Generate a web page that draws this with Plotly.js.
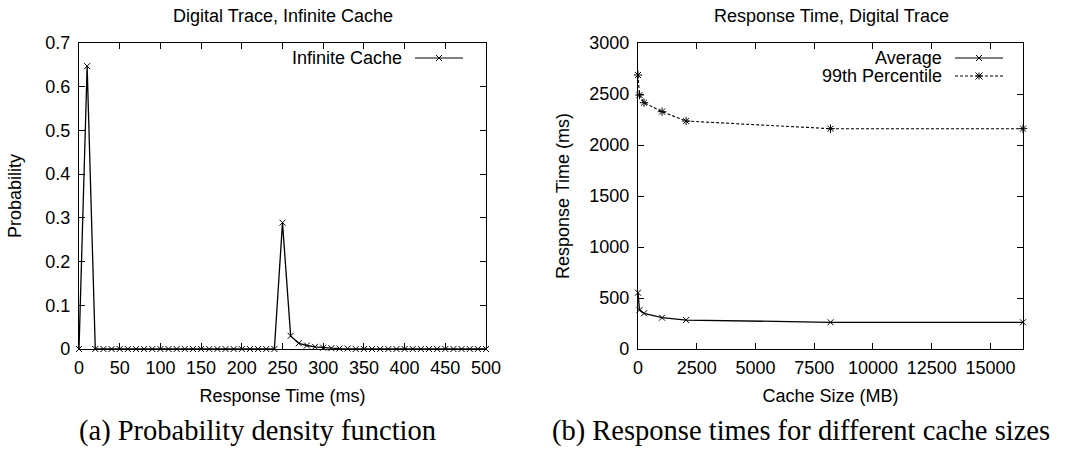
<!DOCTYPE html>
<html>
<head>
<meta charset="utf-8">
<script src="https://cdn.plot.ly/plotly-3.0.1.min.js"></script>
<style>
  html, body { margin: 0; padding: 0; background: #fff; }
  #chart { width: 1066px; height: 449px; }
</style>
</head>
<body>
<div id="chart"></div>
<script>
// (a) Probability density of response times, infinite cache
const responseMs = [0, 10, 20, 30, 40, 50, 60, 70, 80, 90, 100, 110, 120, 130, 140, 150, 160, 170, 180, 190,
  200, 210, 220, 230, 240, 250, 260, 270, 280, 290, 300, 310, 320, 330, 340, 350, 360, 370, 380, 390,
  400, 410, 420, 430, 440, 450, 460, 470, 480, 490, 500];
const probability = [0, 0.647, 0, 0, 0, 0, 0, 0, 0, 0, 0, 0, 0, 0, 0, 0, 0, 0, 0, 0,
  0, 0, 0, 0, 0, 0.289, 0.03, 0.013, 0.008, 0.005, 0.003, 0.002, 0.001, 0.001, 0, 0, 0, 0, 0, 0,
  0, 0, 0, 0, 0, 0, 0, 0, 0, 0, 0];

// (b) Response times for different cache sizes
const cacheSizeMb = [0, 64, 256, 1024, 2048, 8192, 16384];
const avgResponse = [552, 382, 350, 307, 284, 262, 262];
const p99Response = [2686, 2490, 2415, 2327, 2235, 2160, 2160];

const W = 1066, H = 449;
const FONT = '"Liberation Sans", Arial, Helvetica, sans-serif';
const SERIF = '"Liberation Serif", "Times New Roman", serif';
const px = x => x / W;
const py = y => 1 - y / H;

const axisBase = {
  showline: true, linecolor: '#000', linewidth: 1.2, mirror: 'allticks',
  ticks: 'inside', ticklen: 6, tickwidth: 1, tickcolor: '#000',
  showgrid: false, zeroline: false, fixedrange: true,
  tickfont: { family: FONT, size: 18, color: '#000' }
};
const titleFont = { family: FONT, size: 18, color: '#000' };

const traces = [
  {
    x: responseMs, y: probability, xaxis: 'x', yaxis: 'y',
    type: 'scatter', mode: 'lines+markers', name: 'Infinite Cache',
    line: { color: '#000', width: 1.3 },
    marker: { symbol: 'x-thin-open', size: 6, color: '#000', line: { color: '#000', width: 1 } },
    cliponaxis: false
  },
  {
    x: cacheSizeMb, y: avgResponse, xaxis: 'x2', yaxis: 'y2',
    type: 'scatter', mode: 'lines+markers', name: 'Average',
    line: { color: '#000', width: 1.3 },
    marker: { symbol: 'x-thin-open', size: 6, color: '#000', line: { color: '#000', width: 1 } },
    cliponaxis: false
  },
  {
    x: cacheSizeMb, y: p99Response, xaxis: 'x2', yaxis: 'y2',
    type: 'scatter', mode: 'lines+markers', name: '99th Percentile',
    line: { color: '#000', width: 1.1, dash: '3px,2px' },
    marker: { symbol: 'asterisk-open', size: 7, color: '#000', line: { color: '#000', width: 1 } },
    cliponaxis: false
  }
];

// Legend keys drawn gnuplot-style: label on the left, sample on the right
function xGlyph(cx, cy, r) {
  return `M${px(cx - r)},${py(cy - r)} L${px(cx + r)},${py(cy + r)} M${px(cx - r)},${py(cy + r)} L${px(cx + r)},${py(cy - r)}`;
}
function starGlyph(cx, cy, r) {
  return xGlyph(cx, cy, r) + ` M${px(cx - r)},${py(cy)} L${px(cx + r)},${py(cy)} M${px(cx)},${py(cy - r)} L${px(cx)},${py(cy + r)}`;
}
const keyLine = (x0, x1, y, dash) => ({
  type: 'line', xref: 'paper', yref: 'paper', x0: px(x0), x1: px(x1), y0: py(y), y1: py(y),
  line: { color: '#000', width: 1.2, dash: dash || 'solid' }
});
const keyMark = (d) => ({
  type: 'path', xref: 'paper', yref: 'paper', path: d, line: { color: '#000', width: 1 }
});

const shapes = [
  keyLine(415, 463, 58), keyMark(xGlyph(439, 58, 3)),
  keyLine(955, 1003, 58), keyMark(xGlyph(979, 58, 3)),
  keyLine(955, 1003, 76, '3px,2px'), keyMark(starGlyph(979, 76, 3.5))
];

const ann = (text, x, y, opts) => Object.assign({
  text, xref: 'paper', yref: 'paper', x: px(x), y: py(y), showarrow: false,
  font: titleFont, xanchor: 'center', yanchor: 'middle'
}, opts || {});

const captionFont = { family: SERIF, size: 28.5, color: '#000' };
const annotations = [
  ann('Digital Trace, Infinite Cache', 283, 16),
  ann('Response Time, Digital Trace', 831, 16),
  ann('Infinite Cache', 404, 58, { xanchor: 'right' }),
  ann('Average', 944, 58, { xanchor: 'right' }),
  ann('99th Percentile', 944, 76, { xanchor: 'right' }),
  ann('(a) Probability density function', 257, 431, { font: captionFont }),
  ann('(b) Response times for different cache sizes', 801, 431, { font: captionFont })
];

const layout = {
  width: W, height: H,
  margin: { l: 0, r: 0, t: 0, b: 0 },
  paper_bgcolor: '#fff', plot_bgcolor: '#fff',
  showlegend: false,
  font: { family: FONT, color: '#000' },
  xaxis: Object.assign({}, axisBase, {
    domain: [px(79), px(486)], anchor: 'y', range: [0, 500], dtick: 50, tick0: 0,
    ticklabelstandoff: 2,
    title: { text: 'Response Time (ms)', font: titleFont, standoff: 12 }
  }),
  yaxis: Object.assign({}, axisBase, {
    domain: [py(349), py(43)], anchor: 'x', range: [0, 0.7], dtick: 0.1, tick0: 0,
    ticklabelstandoff: 4,
    title: { text: 'Probability', font: titleFont, standoff: 18 }
  }),
  xaxis2: Object.assign({}, axisBase, {
    domain: [px(638), px(1023)], anchor: 'y2', range: [0, 16384], dtick: 2500, tick0: 0,
    tickformat: 'd', ticklabelstandoff: 2,
    title: { text: 'Cache Size (MB)', font: titleFont, standoff: 12 }
  }),
  yaxis2: Object.assign({}, axisBase, {
    domain: [py(349), py(43)], anchor: 'x2', range: [0, 3000], dtick: 500, tick0: 0,
    ticklabelstandoff: 4,
    title: { text: 'Response Time (ms)', font: titleFont, standoff: 14 }
  }),
  shapes, annotations
};

Plotly.newPlot('chart', traces, layout, { displayModeBar: false, staticPlot: true });
</script>
</body>
</html>
